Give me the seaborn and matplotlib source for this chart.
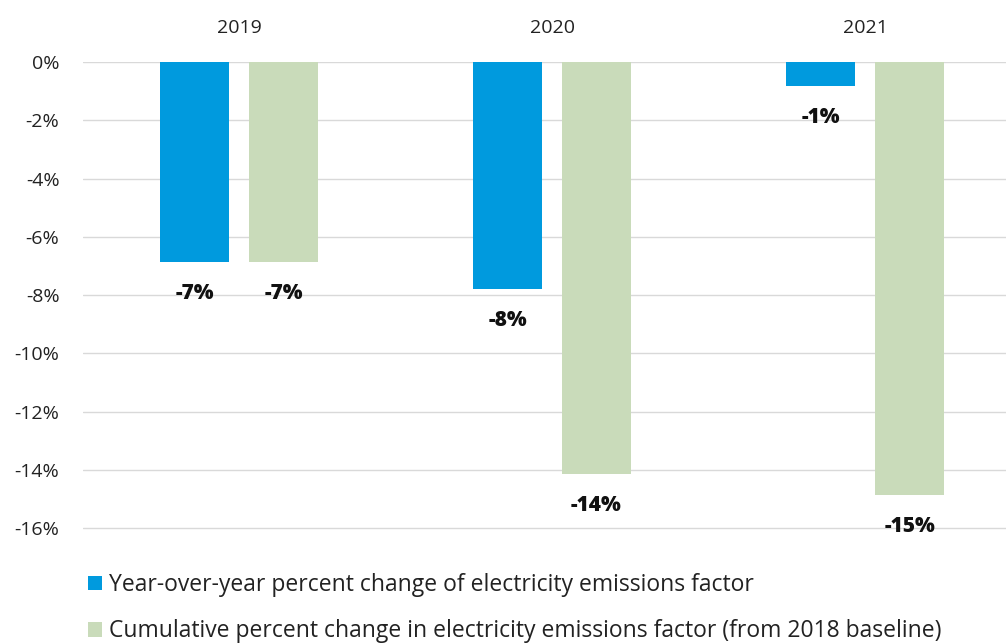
import matplotlib
matplotlib.use("Agg")
import matplotlib.pyplot as plt
from matplotlib.patches import Patch
import seaborn as sns
import pandas as pd

years = ["2019", "2020", "2021"]
yoy_change = [-6.87, -7.79, -0.82]
cumulative_change = [-6.87, -14.15, -14.87]
series_names = [
    "Year-over-year percent change of electricity emissions factor",
    "Cumulative percent change in electricity emissions factor (from 2018 baseline)",
]
series_colors = ["#009ADE", "#C9DBBA"]
y_ticks = [0, -2, -4, -6, -8, -10, -12, -14, -16]

df = pd.DataFrame({
    "year": years * 2,
    "value": yoy_change + cumulative_change,
    "series": [series_names[0]] * 3 + [series_names[1]] * 3,
})

sns.set_theme(style="white")
plt.rcParams["font.family"] = ["Open Sans", "DejaVu Sans"]

fig = plt.figure(figsize=(10.06, 6.44), dpi=100)
ax = fig.add_axes([83 / 1006, 1 - 530 / 644, 1 - 83 / 1006, (530 - 62) / 644])

sns.barplot(data=df, x="year", y="value", hue="series", hue_order=series_names,
            palette=series_colors, width=0.568, gap=0.225, ax=ax,
            legend=False, saturation=1, linewidth=0)

for container in ax.containers:
    ax.bar_label(container, labels=[f"{round(b.get_height()):d}%" for b in container],
                 padding=15, fontsize=15, fontweight="heavy", color="#111111")

ax.set_ylim(-16.06, 0)
ax.set_xlim(-0.498, 2.45)
ax.set_yticks(y_ticks)
ax.set_yticklabels([f"{t}%" for t in y_ticks])
ax.set_axisbelow(True)
ax.yaxis.grid(True, color="#D9D9D9", linewidth=1)
ax.xaxis.grid(False)
for s in ax.spines.values():
    s.set_visible(False)
ax.xaxis.tick_top()
ax.tick_params(axis="x", length=0, pad=18, labelsize=14, labelcolor="#222222")
ax.tick_params(axis="y", length=0, pad=17, labelsize=14, labelcolor="#222222")
ax.set_xlabel("")
ax.set_ylabel("")

handles = [Patch(facecolor=c, edgecolor="none") for c in series_colors]
fig.legend(handles, series_names, loc="upper left", bbox_to_anchor=(88 / 1006, 1 - 573 / 644),
           frameon=False, fontsize=16.5, handlelength=0.6, handleheight=0.6,
           handletextpad=0.3, labelspacing=0.98, borderaxespad=0, borderpad=0,
           labelcolor="#222222")

fig.savefig("out.png", dpi=100)
